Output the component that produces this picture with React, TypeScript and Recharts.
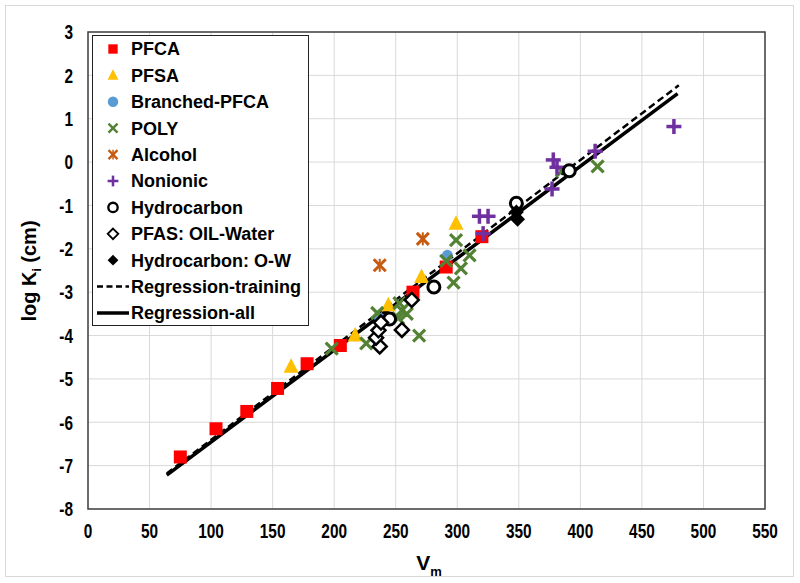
import React from 'react';
import {
  ScatterChart, Scatter, XAxis, YAxis, CartesianGrid, Legend, ReferenceArea,
} from 'recharts';

// values (Vm, log Ki)
const pfca = [
  { x: 75, y: -6.8 }, { x: 104, y: -6.15 }, { x: 129, y: -5.75 }, { x: 154, y: -5.22 },
  { x: 178, y: -4.65 }, { x: 205, y: -4.23 }, { x: 264, y: -3.0 }, { x: 291, y: -2.42 },
  { x: 320, y: -1.72 },
];
const pfsa = [
  { x: 165, y: -4.72 }, { x: 217, y: -4.0 }, { x: 244, y: -3.3 }, { x: 271, y: -2.65 },
  { x: 299, y: -1.42 },
];
const branched = [{ x: 237, y: -3.6 }, { x: 292, y: -2.15 }];
const poly = [
  { x: 198, y: -4.3 }, { x: 226, y: -4.18 }, { x: 235, y: -3.48 }, { x: 253, y: -3.25 },
  { x: 255, y: -3.42 }, { x: 259, y: -3.5 }, { x: 252, y: -3.6 }, { x: 269, y: -4.0 },
  { x: 297, y: -2.78 }, { x: 299, y: -1.8 }, { x: 291, y: -2.28 }, { x: 303, y: -2.45 },
  { x: 310, y: -2.15 }, { x: 385, y: -0.2 }, { x: 414, y: -0.1 },
];
const alcohol = [{ x: 237, y: -2.38 }, { x: 272, y: -1.77 }];
const nonionic = [
  { x: 318, y: -1.25 }, { x: 325, y: -1.25 }, { x: 321, y: -1.65 }, { x: 377, y: -0.62 },
  { x: 378, y: 0.05 }, { x: 381, y: -0.12 }, { x: 412, y: 0.25 }, { x: 476, y: 0.82 },
];
const hydrocarbon = [
  { x: 245, y: -3.62 }, { x: 281, y: -2.88 }, { x: 348, y: -0.95 }, { x: 391, y: -0.2 },
];
const pfasOilWater = [
  { x: 237, y: -4.25 }, { x: 234, y: -4.05 }, { x: 236, y: -3.88 }, { x: 238, y: -3.7 },
  { x: 255, y: -3.87 }, { x: 263, y: -3.18 },
];
const hcOilWater = [{ x: 348, y: -1.15 }, { x: 349, y: -1.32 }];
const regTraining = [{ x: 64, y: -7.18 }, { x: 480, y: 1.77 }];
const regAll = [{ x: 64, y: -7.22 }, { x: 479, y: 1.58 }];

const xTicks = [0, 50, 100, 150, 200, 250, 300, 350, 400, 450, 500, 550];
const yTicks = [-8, -7, -6, -5, -4, -3, -2, -1, 0, 1, 2, 3];

const FONT = '"Liberation Sans", Arial, sans-serif';

const RED = '#FF0000';
const GOLD = '#FFC000';
const BLUE = '#5B9BD5';
const GREEN = '#548235';
const ORANGE = '#C55A11';
const PURPLE = '#7030A0';

type P = { cx?: number; cy?: number };

const mk = {
  square: (cx: number, cy: number, s = 1) => (
    <rect x={cx - 6.5 * s} y={cy - 6.5 * s} width={13 * s} height={13 * s} fill={RED} />
  ),
  triangle: (cx: number, cy: number, s = 1) => (
    <polygon
      points={`${cx},${cy - 8.5 * s} ${cx + 7.5 * s},${cy + 6 * s} ${cx - 7.5 * s},${cy + 6 * s}`}
      fill={GOLD}
    />
  ),
  circle: (cx: number, cy: number, s = 1) => <circle cx={cx} cy={cy} r={5.5 * s} fill={BLUE} />,
  cross: (cx: number, cy: number, s = 1) => (
    <g stroke={GREEN} strokeWidth={3.2 * s}>
      <line x1={cx - 6 * s} y1={cy - 6 * s} x2={cx + 6 * s} y2={cy + 6 * s} />
      <line x1={cx - 6 * s} y1={cy + 6 * s} x2={cx + 6 * s} y2={cy - 6 * s} />
    </g>
  ),
  star: (cx: number, cy: number, s = 1) => (
    <g stroke={ORANGE} strokeWidth={3 * s}>
      <line x1={cx - 6 * s} y1={cy - 6 * s} x2={cx + 6 * s} y2={cy + 6 * s} />
      <line x1={cx - 6 * s} y1={cy + 6 * s} x2={cx + 6 * s} y2={cy - 6 * s} />
      <line x1={cx} y1={cy - 6.5 * s} x2={cx} y2={cy + 6.5 * s} strokeWidth={2 * s} />
    </g>
  ),
  plus: (cx: number, cy: number, s = 1) => (
    <g stroke={PURPLE} strokeWidth={3.5 * s}>
      <line x1={cx - 7.5 * s} y1={cy} x2={cx + 7.5 * s} y2={cy} />
      <line x1={cx} y1={cy - 7.5 * s} x2={cx} y2={cy + 7.5 * s} />
    </g>
  ),
  ring: (cx: number, cy: number, s = 1) => (
    <circle cx={cx} cy={cy} r={6 * s} fill="#fff" stroke="#000" strokeWidth={3 * s} />
  ),
  openDiamond: (cx: number, cy: number, s = 1) => (
    <polygon
      points={`${cx},${cy - 7 * s} ${cx + 7 * s},${cy} ${cx},${cy + 7 * s} ${cx - 7 * s},${cy}`}
      fill="#fff" stroke="#000" strokeWidth={2.5 * s}
    />
  ),
  diamond: (cx: number, cy: number, s = 1) => (
    <polygon
      points={`${cx},${cy - 7.5 * s} ${cx + 7.5 * s},${cy} ${cx},${cy + 7.5 * s} ${cx - 7.5 * s},${cy}`}
      fill="#000"
    />
  ),
};

const shapeOf = (f: (cx: number, cy: number, s?: number) => React.ReactElement) =>
  (p: P) => (p.cx == null || p.cy == null ? <g /> : f(p.cx, p.cy));

const legendRows: { name: string; draw: (cx: number, cy: number) => React.ReactElement }[] = [
  { name: 'PFCA', draw: (x, y) => mk.square(x, y, 0.72) },
  { name: 'PFSA', draw: (x, y) => mk.triangle(x, y, 0.72) },
  { name: 'Branched-PFCA', draw: (x, y) => mk.circle(x, y, 0.95) },
  { name: 'POLY', draw: (x, y) => mk.cross(x, y, 0.75) },
  { name: 'Alcohol', draw: (x, y) => mk.star(x, y, 0.75) },
  { name: 'Nonionic', draw: (x, y) => mk.plus(x, y, 0.72) },
  { name: 'Hydrocarbon', draw: (x, y) => mk.ring(x, y, 0.78) },
  { name: 'PFAS: OIL-Water', draw: (x, y) => mk.openDiamond(x, y, 0.75) },
  { name: 'Hydrocarbon: O-W', draw: (x, y) => mk.diamond(x, y, 0.72) },
  {
    name: 'Regression-training',
    draw: (x, y) => (
      <line x1={x - 16} y1={y} x2={x + 16} y2={y} stroke="#000" strokeWidth={2.5} strokeDasharray="6 3.5" />
    ),
  },
  {
    name: 'Regression-all',
    draw: (x, y) => <line x1={x - 16} y1={y} x2={x + 16} y2={y} stroke="#000" strokeWidth={3.5} />,
  },
];

const ROW = 26.4;

const LegendBox = () => (
  <div
    style={{
      width: 217, height: 291, border: '1.5px solid #222', background: '#fff',
      boxSizing: 'border-box', position: 'relative',
    }}
  >
    <svg width={215} height={288} style={{ position: 'absolute', left: 0, top: 0 }}>
      {legendRows.map((r, i) => {
        const cy = 13 + i * ROW;
        return (
          <g key={r.name}>
            {r.draw(20, cy)}
            <text x={38} y={cy} dy="0.36em" fontFamily={FONT} fontWeight="bold" fontSize={18} fill="#000">
              {r.name}
            </text>
          </g>
        );
      })}
    </svg>
  </div>
);

const YTitle = () => (
  <text
    x={29} y={271} transform="rotate(-90 29 271)" textAnchor="middle" dy="0.36em"
    fontFamily={FONT} fontWeight="bold" fontSize={20} fill="#000"
  >
    log K<tspan fontSize={12} dy={5}>i</tspan><tspan dy={-5}> (cm)</tspan>
  </text>
);

const XTitle = () => (
  <text x={429} y={562} textAnchor="middle" dy="0.36em" fontFamily={FONT} fontWeight="bold" fontSize={21} fill="#000">
    V<tspan fontSize={13} dy={6}>m</tspan>
  </text>
);

// tick text is drawn a bit taller than wide, as in the reference
const XTick = (p: any) => (
  <g transform={`translate(${p.x},${p.y}) scale(0.88,1.15)`}>
    <text textAnchor="middle" dy="0.71em" fontFamily={FONT} fontWeight="bold" fontSize={17.5} fill="#000">
      {p.payload.value}
    </text>
  </g>
);

const YTick = (p: any) => (
  <g transform={`translate(${p.x},${p.y}) scale(0.88,1.15)`}>
    <text textAnchor="end" dy="0.36em" fontFamily={FONT} fontWeight="bold" fontSize={17.5} fill="#000">
      {p.payload.value}
    </text>
  </g>
);

const series = [
  { name: 'PFCA', data: pfca, draw: mk.square },
  { name: 'PFSA', data: pfsa, draw: mk.triangle },
  { name: 'Branched-PFCA', data: branched, draw: mk.circle },
  { name: 'POLY', data: poly, draw: mk.cross },
  { name: 'Alcohol', data: alcohol, draw: mk.star },
  { name: 'Nonionic', data: nonionic, draw: mk.plus },
  { name: 'Hydrocarbon', data: hydrocarbon, draw: mk.ring },
  { name: 'PFAS: OIL-Water', data: pfasOilWater, draw: mk.openDiamond },
  { name: 'Hydrocarbon: O-W', data: hcOilWater, draw: mk.diamond },
];

export default function App() {
  return (
    <div style={{ position: 'absolute', left: 0, top: 0, width: 800, height: 583, background: '#fff' }}>
      <div
        style={{
          position: 'absolute', left: 5, top: 5, width: 789, height: 572,
          border: '1px solid #d9d9d9', boxSizing: 'border-box',
        }}
      />
      <ScatterChart width={800} height={583} margin={{ top: 32, right: 35, bottom: 34, left: 0 }}>
        <CartesianGrid stroke="#d9d9d9" strokeWidth={1} />
        <XAxis
          type="number" dataKey="x" domain={[0, 550]} ticks={xTicks} allowDataOverflow
          height={40} tickLine={false} axisLine={false} tickSize={0} tickMargin={15} tick={<XTick />}
        />
        <YAxis
          type="number" dataKey="y" domain={[-8, 3]} ticks={yTicks} allowDataOverflow
          width={88} tickLine={false} axisLine={false} tickSize={0} tickMargin={15} tick={<YTick />}
        />
        <ReferenceArea x1={0} x2={550} y1={-8} y2={3} fill="none" stroke="#404040" strokeWidth={1.5} />
        <Scatter
          name="Regression-training" data={regTraining} isAnimationActive={false}
          line={{ stroke: '#000', strokeWidth: 2.5, strokeDasharray: '7 4' }} shape={() => <g />}
        />
        <Scatter
          name="Regression-all" data={regAll} isAnimationActive={false}
          line={{ stroke: '#000', strokeWidth: 3.5 }} shape={() => <g />}
        />
        {series.map((s) => (
          <Scatter key={s.name} name={s.name} data={s.data} isAnimationActive={false} shape={shapeOf(s.draw)} />
        ))}
        <Legend
          layout="vertical" align="center" verticalAlign="middle"
          wrapperStyle={{ left: 92, top: 35, width: 217, height: 291 }}
          content={() => <LegendBox />}
        />
        <YTitle />
        <XTitle />
      </ScatterChart>
    </div>
  );
}
